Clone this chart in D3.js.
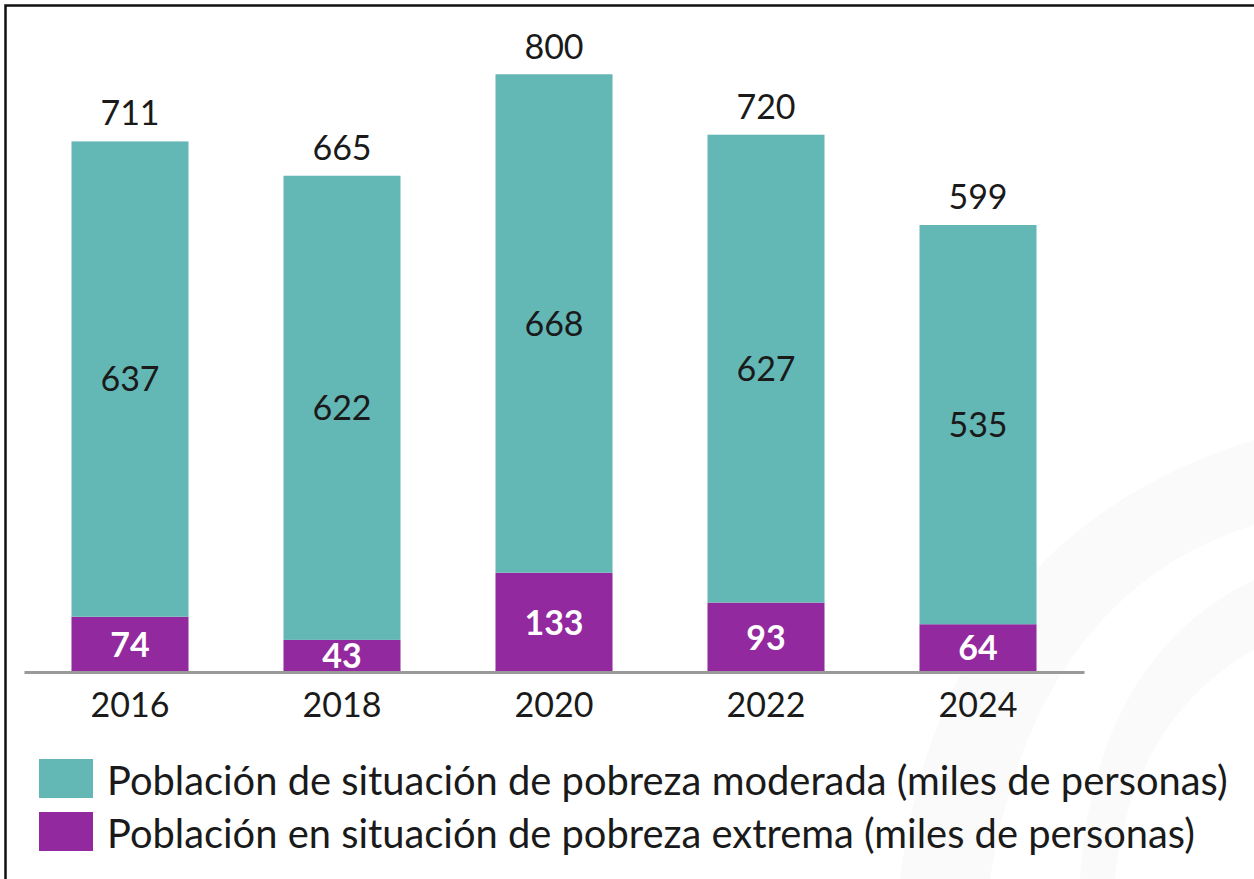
<!DOCTYPE html>
<html>
<head>
  <meta charset="utf-8">
  <title>Pobreza</title>
  <script src="https://d3js.org/d3.v7.min.js"></script>
  <style>
    body { margin: 0; background: white; }
    svg { display: block; font-family: Lato, "Noto Sans", sans-serif; }
  </style>
</head>
<body>
<svg id="chart" width="1254" height="879"></svg>
<script>
// data
var years = ["2016", "2018", "2020", "2022", "2024"]
var moderada = [637, 622, 668, 627, 535]
var extrema = [74, 43, 133, 93, 64]
var totals = [711, 665, 800, 720, 599]
var seriesNames = [
  "Población de situación de pobreza moderada (miles de personas)",
  "Población en situación de pobreza extrema (miles de personas)"
]
var colors = ["#63b7b5", "#93299e"]

var svg = d3.select("#chart")

// faint watermark in the corner
var wm = svg.append("g").attr("fill", "#fafafa")
wm.append("path")
  .attr("d", "M 1254 440 C 1060 500 930 640 900 879 L 990 879 C 1020 690 1110 570 1254 525 Z")
wm.append("path")
  .attr("d", "M 1254 580 C 1150 630 1090 730 1080 879 L 1115 879 C 1125 770 1180 690 1254 650 Z")

// frame (only top and left visible)
svg.append("rect")
  .attr("x", 5.5).attr("y", 5.5)
  .attr("width", 1270).attr("height", 900)
  .attr("fill", "none")
  .attr("stroke", "#111")
  .attr("stroke-width", 2.5)

var x = d3.scaleBand()
  .domain(years)
  .range([24, 1084])
  .paddingInner(0.448)
  .paddingOuter(0.224)

var y = d3.scaleLinear()
  .domain([0, 800])
  .range([672, 75])

var rows = years.map((yr, i) => ({year: yr, moderada: moderada[i], extrema: extrema[i], total: totals[i]}))
var stack = d3.stack().keys(["extrema", "moderada"])(rows)

var layers = svg.append("g").selectAll("g")
  .data(stack)
  .join("g")
  .attr("fill", d => d.key == "extrema" ? colors[1] : colors[0])

layers.selectAll("rect")
  .data(d => d)
  .join("rect")
  .attr("x", d => x(d.data.year))
  .attr("y", d => y(d[1]))
  .attr("width", x.bandwidth())
  .attr("height", d => y(d[0]) - y(d[1]))

// segment labels
layers.selectAll("text")
  .data(d => d.map(s => ({s: s, key: d.key})))
  .join("text")
  .attr("x", d => x(d.s.data.year) + x.bandwidth() / 2)
  .attr("y", d => (y(d.s[0]) + y(d.s[1])) / 2)
  .attr("dy", "0.36em")
  .attr("text-anchor", "middle")
  .attr("font-size", 34)
  .attr("font-weight", d => d.key == "extrema" ? 700 : 400)
  .attr("fill", d => d.key == "extrema" ? "#fff" : "#1a1a1a")
  .text(d => d.s.data[d.key])

// totals
svg.append("g").selectAll("text")
  .data(rows)
  .join("text")
  .attr("x", d => x(d.year) + x.bandwidth() / 2)
  .attr("y", d => y(d.total) - 16)
  .attr("text-anchor", "middle")
  .attr("font-size", 34)
  .attr("fill", "#1a1a1a")
  .text(d => d.total)

// x axis
var xAxis = svg.append("g")
  .attr("transform", "translate(0,672)")
  .call(d3.axisBottom(x).tickSize(0).tickPadding(21))
xAxis.select(".domain").attr("stroke", "#9a9a9a").attr("stroke-width", 3)
xAxis.selectAll("text")
  .attr("font-size", 34)
  .attr("font-family", "Lato, 'Noto Sans', sans-serif")
  .attr("fill", "#1a1a1a")
  .attr("dy", "0.71em")

// legend
var legend = svg.append("g").selectAll("g")
  .data(seriesNames)
  .join("g")
  .attr("transform", (d, i) => "translate(39," + (759 + i * 53) + ")")

legend.append("rect")
  .attr("width", 54)
  .attr("height", 39)
  .attr("fill", (d, i) => colors[i])

legend.append("text")
  .attr("x", 68)
  .attr("y", 36)
  .attr("font-size", 32)
  .attr("fill", "#1a1a1a")
  .text(d => d)

// fit the first legend line to the width it has in the picture
var first = legend.select("text").node()
var w = first.getComputedTextLength()
var fs = 32 * 1121 / w
legend.selectAll("text").attr("font-size", fs)
</script>
</body>
</html>
